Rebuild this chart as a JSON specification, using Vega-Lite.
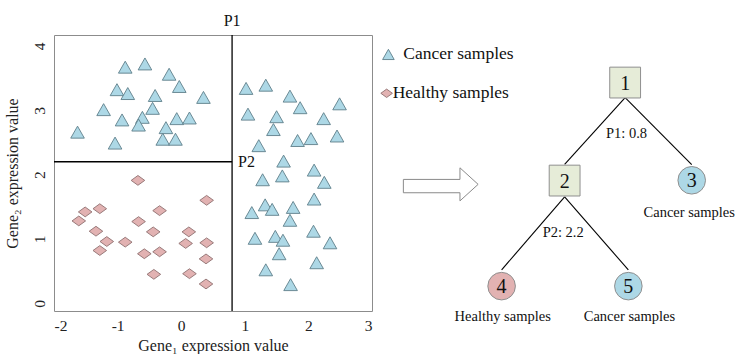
{
  "$schema": "https://vega.github.io/schema/vega-lite/v6.json",
  "padding": {"left": 3, "top": 12, "right": 0, "bottom": 0},
  "bounds": "flush",
  "spacing": 10,
  "config": {
    "font": "Liberation Serif",
    "text": {"font": "Liberation Serif", "color": "#111111"},
    "axis": {"labelFont": "Liberation Serif", "titleFont": "Liberation Serif", "labelColor": "#222222", "titleColor": "#222222", "titleFontWeight": "normal", "grid": false, "domain": false, "ticks": false}
  },
  "datasets": {
    "samples": [
      {"group": "Cancer samples", "gene1": -0.88, "gene2": 3.67},
      {"group": "Cancer samples", "gene1": -0.57, "gene2": 3.72},
      {"group": "Cancer samples", "gene1": -0.19, "gene2": 3.56},
      {"group": "Cancer samples", "gene1": -0.03, "gene2": 3.37},
      {"group": "Cancer samples", "gene1": -1.01, "gene2": 3.32},
      {"group": "Cancer samples", "gene1": -0.84, "gene2": 3.26},
      {"group": "Cancer samples", "gene1": -0.41, "gene2": 3.23},
      {"group": "Cancer samples", "gene1": 0.35, "gene2": 3.20},
      {"group": "Cancer samples", "gene1": -1.22, "gene2": 3.01},
      {"group": "Cancer samples", "gene1": -0.45, "gene2": 3.03},
      {"group": "Cancer samples", "gene1": -0.93, "gene2": 2.85},
      {"group": "Cancer samples", "gene1": -0.61, "gene2": 2.89},
      {"group": "Cancer samples", "gene1": -0.67, "gene2": 2.77},
      {"group": "Cancer samples", "gene1": -0.07, "gene2": 2.87},
      {"group": "Cancer samples", "gene1": 0.13, "gene2": 2.88},
      {"group": "Cancer samples", "gene1": -0.24, "gene2": 2.73},
      {"group": "Cancer samples", "gene1": -1.63, "gene2": 2.66},
      {"group": "Cancer samples", "gene1": -0.29, "gene2": 2.55},
      {"group": "Cancer samples", "gene1": -0.09, "gene2": 2.55},
      {"group": "Cancer samples", "gene1": -1.04, "gene2": 2.49},
      {"group": "Cancer samples", "gene1": 1.02, "gene2": 3.34},
      {"group": "Cancer samples", "gene1": 1.33, "gene2": 3.39},
      {"group": "Cancer samples", "gene1": 1.71, "gene2": 3.22},
      {"group": "Cancer samples", "gene1": 2.49, "gene2": 3.10},
      {"group": "Cancer samples", "gene1": 1.87, "gene2": 3.04},
      {"group": "Cancer samples", "gene1": 1.05, "gene2": 2.94},
      {"group": "Cancer samples", "gene1": 1.50, "gene2": 2.90},
      {"group": "Cancer samples", "gene1": 2.24, "gene2": 2.87},
      {"group": "Cancer samples", "gene1": 1.45, "gene2": 2.70},
      {"group": "Cancer samples", "gene1": 1.83, "gene2": 2.53},
      {"group": "Cancer samples", "gene1": 2.04, "gene2": 2.56},
      {"group": "Cancer samples", "gene1": 2.45, "gene2": 2.60},
      {"group": "Cancer samples", "gene1": 1.22, "gene2": 2.45},
      {"group": "Cancer samples", "gene1": 1.61, "gene2": 2.21},
      {"group": "Cancer samples", "gene1": 2.09, "gene2": 2.07},
      {"group": "Cancer samples", "gene1": 1.28, "gene2": 1.92},
      {"group": "Cancer samples", "gene1": 1.59, "gene2": 1.98},
      {"group": "Cancer samples", "gene1": 2.25, "gene2": 1.88},
      {"group": "Cancer samples", "gene1": 2.09, "gene2": 1.62},
      {"group": "Cancer samples", "gene1": 1.32, "gene2": 1.53},
      {"group": "Cancer samples", "gene1": 1.43, "gene2": 1.46},
      {"group": "Cancer samples", "gene1": 1.11, "gene2": 1.41},
      {"group": "Cancer samples", "gene1": 1.76, "gene2": 1.49},
      {"group": "Cancer samples", "gene1": 1.71, "gene2": 1.29},
      {"group": "Cancer samples", "gene1": 2.08, "gene2": 1.12},
      {"group": "Cancer samples", "gene1": 1.16, "gene2": 1.01},
      {"group": "Cancer samples", "gene1": 1.48, "gene2": 1.04},
      {"group": "Cancer samples", "gene1": 1.60, "gene2": 0.98},
      {"group": "Cancer samples", "gene1": 2.34, "gene2": 0.94},
      {"group": "Cancer samples", "gene1": 1.54, "gene2": 0.77},
      {"group": "Cancer samples", "gene1": 2.13, "gene2": 0.63},
      {"group": "Cancer samples", "gene1": 1.33, "gene2": 0.52},
      {"group": "Cancer samples", "gene1": 1.72, "gene2": 0.29},
      {"group": "Healthy samples", "gene1": -0.68, "gene2": 1.91},
      {"group": "Healthy samples", "gene1": 0.40, "gene2": 1.60},
      {"group": "Healthy samples", "gene1": -1.51, "gene2": 1.42},
      {"group": "Healthy samples", "gene1": -1.28, "gene2": 1.47},
      {"group": "Healthy samples", "gene1": -0.34, "gene2": 1.44},
      {"group": "Healthy samples", "gene1": -1.61, "gene2": 1.28},
      {"group": "Healthy samples", "gene1": -0.67, "gene2": 1.27},
      {"group": "Healthy samples", "gene1": -1.34, "gene2": 1.12},
      {"group": "Healthy samples", "gene1": -0.44, "gene2": 1.11},
      {"group": "Healthy samples", "gene1": 0.12, "gene2": 1.11},
      {"group": "Healthy samples", "gene1": -1.17, "gene2": 0.96},
      {"group": "Healthy samples", "gene1": -0.88, "gene2": 0.95},
      {"group": "Healthy samples", "gene1": 0.07, "gene2": 0.93},
      {"group": "Healthy samples", "gene1": 0.40, "gene2": 0.94},
      {"group": "Healthy samples", "gene1": -1.28, "gene2": 0.82},
      {"group": "Healthy samples", "gene1": -0.58, "gene2": 0.77},
      {"group": "Healthy samples", "gene1": -0.34, "gene2": 0.80},
      {"group": "Healthy samples", "gene1": 0.39, "gene2": 0.69},
      {"group": "Healthy samples", "gene1": -0.43, "gene2": 0.45},
      {"group": "Healthy samples", "gene1": 0.13, "gene2": 0.46},
      {"group": "Healthy samples", "gene1": 0.39, "gene2": 0.30}
    ],
    "nodes": [
      {"id": "1", "kind": "split", "x": 68.3, "y": 83.6},
      {"id": "2", "kind": "split", "x": 51.3, "y": 49.8},
      {"id": "3", "kind": "Cancer samples", "x": 87.0, "y": 49.9},
      {"id": "4", "kind": "Healthy samples", "x": 33.6, "y": 13.4},
      {"id": "5", "kind": "Cancer samples", "x": 69.2, "y": 13.4}
    ],
    "edges": [
      {"x": 68.3, "y": 78.4, "x2": 51.3, "y2": 55.4},
      {"x": 68.3, "y": 78.4, "x2": 87.0, "y2": 55.3},
      {"x": 51.3, "y": 44.2, "x2": 33.6, "y2": 19.0},
      {"x": 51.3, "y": 44.2, "x2": 69.2, "y2": 19.0}
    ],
    "treeLabels": [
      {"text": "P1: 0.8", "x": 68.7, "y": 66.0},
      {"text": "P2: 2.2", "x": 50.9, "y": 31.8},
      {"text": "Cancer samples", "x": 86.3, "y": 38.7},
      {"text": "Healthy samples", "x": 33.9, "y": 2.9},
      {"text": "Cancer samples", "x": 69.5, "y": 2.9}
    ],
    "arrow": [
      {"i": 0, "x": 6.0, "y": 50.2},
      {"i": 1, "x": 21.9, "y": 50.2},
      {"i": 2, "x": 21.9, "y": 54.2},
      {"i": 3, "x": 27.0, "y": 48.5},
      {"i": 4, "x": 21.9, "y": 42.8},
      {"i": 5, "x": 21.9, "y": 45.6},
      {"i": 6, "x": 6.0, "y": 45.6},
      {"i": 7, "x": 6.0, "y": 50.2}
    ],
    "legend": [
      {"group": "Cancer samples", "x": 1.8, "y": 93.3, "tx": 6.0},
      {"group": "Healthy samples", "x": 1.3, "y": 79.9, "tx": 3.0}
    ]
  },
  "hconcat": [
    {
      "width": 318,
      "height": 276,
      "view": {"stroke": "#8c8c8c", "strokeWidth": 1},
      "layer": [
        {
          "data": {"name": "samples"},
          "mark": {"type": "point", "filled": true, "size": 185, "strokeWidth": 0.9, "opacity": 1},
          "encoding": {
            "x": {"field": "gene1", "type": "quantitative", "title": "Gene₁ expression value",
                  "scale": {"domain": [-2, 3], "nice": false, "zero": false},
                  "axis": {"values": [-2, -1, 0, 1, 2, 3], "labelExpr": "'' + datum.value", "labelFontSize": 15.5, "titleFontSize": 16, "labelPadding": 7, "titlePadding": 4}},
            "y": {"field": "gene2", "type": "quantitative", "title": "Gene₂ expression value",
                  "scale": {"domain": [-0.12, 4.17], "nice": false, "zero": false},
                  "axis": {"values": [0, 1, 2, 3, 4], "labelExpr": "'' + datum.value", "labelAngle": -90, "labelFontSize": 15.5, "titleFontSize": 16, "labelPadding": 7, "titlePadding": 12}},
            "shape": {"field": "group", "type": "nominal", "legend": null,
                      "scale": {"domain": ["Cancer samples", "Healthy samples"], "range": ["M0,-0.88L1,0.88L-1,0.88Z", "M-1,0L0,-0.72L1,0L0,0.72Z"]}},
            "fill": {"field": "group", "type": "nominal", "legend": null,
                     "scale": {"domain": ["Cancer samples", "Healthy samples"], "range": ["#add8e6", "#e2b2b2"]}},
            "stroke": {"field": "group", "type": "nominal", "legend": null,
                       "scale": {"domain": ["Cancer samples", "Healthy samples"], "range": ["#5f7f8a", "#8f7070"]}}
          }
        },
        {
          "data": {"values": [{"split": "P1", "gene1": 0.8}]},
          "mark": {"type": "rule", "color": "#000000", "strokeWidth": 1.3},
          "encoding": {"x": {"field": "gene1", "type": "quantitative"}}
        },
        {
          "data": {"values": [{"split": "P2", "gene1": -2, "gene1_end": 0.8, "gene2": 2.2}]},
          "mark": {"type": "rule", "color": "#000000", "strokeWidth": 1.3},
          "encoding": {
            "x": {"field": "gene1", "type": "quantitative"},
            "x2": {"field": "gene1_end"},
            "y": {"field": "gene2", "type": "quantitative"}
          }
        },
        {
          "data": {"values": [{"label": "P1", "gene1": 0.8, "gene2": 4.17}]},
          "mark": {"type": "text", "fontSize": 16, "align": "center", "baseline": "alphabetic", "dy": -9},
          "encoding": {
            "x": {"field": "gene1", "type": "quantitative"},
            "y": {"field": "gene2", "type": "quantitative"},
            "text": {"field": "label"}
          }
        },
        {
          "data": {"values": [{"label": "P2", "gene1": 0.8, "gene2": 2.2}]},
          "mark": {"type": "text", "fontSize": 16, "align": "left", "baseline": "middle", "dx": 6},
          "encoding": {
            "x": {"field": "gene1", "type": "quantitative"},
            "y": {"field": "gene2", "type": "quantitative"},
            "text": {"field": "label"}
          }
        }
      ]
    },
    {
      "width": 356,
      "height": 290,
      "view": {"stroke": null},
      "layer": [
        {
          "data": {"name": "arrow"},
          "mark": {"type": "line", "color": "#8a8a8a", "strokeWidth": 1},
          "encoding": {
            "x": {"field": "x", "type": "quantitative", "scale": {"domain": [0, 100], "nice": false, "zero": false}, "axis": null},
            "y": {"field": "y", "type": "quantitative", "scale": {"domain": [0, 100], "nice": false, "zero": false}, "axis": null},
            "order": {"field": "i", "type": "quantitative"}
          }
        },
        {
          "data": {"name": "edges"},
          "mark": {"type": "rule", "color": "#000000", "strokeWidth": 1.1},
          "encoding": {
            "x": {"field": "x", "type": "quantitative"},
            "y": {"field": "y", "type": "quantitative"},
            "x2": {"field": "x2"},
            "y2": {"field": "y2"}
          }
        },
        {
          "data": {"name": "nodes"},
          "transform": [{"filter": "datum.kind === 'split'"}],
          "mark": {"type": "point", "shape": "square", "filled": true, "size": 950, "fill": "#e6ecd8", "stroke": "#8f8f8f", "strokeWidth": 1, "opacity": 1},
          "encoding": {
            "x": {"field": "x", "type": "quantitative"},
            "y": {"field": "y", "type": "quantitative"}
          }
        },
        {
          "data": {"name": "nodes"},
          "transform": [{"filter": "datum.kind !== 'split'"}],
          "mark": {"type": "point", "shape": "circle", "filled": true, "size": 760, "stroke": "#8f8f8f", "strokeWidth": 1, "opacity": 1},
          "encoding": {
            "x": {"field": "x", "type": "quantitative"},
            "y": {"field": "y", "type": "quantitative"},
            "fill": {"field": "kind", "type": "nominal", "legend": null,
                     "scale": {"domain": ["Cancer samples", "Healthy samples"], "range": ["#add8e6", "#e2b2b2"]}}
          }
        },
        {
          "data": {"name": "nodes"},
          "mark": {"type": "text", "fontSize": 20, "align": "center", "baseline": "middle", "dy": 1},
          "encoding": {
            "x": {"field": "x", "type": "quantitative"},
            "y": {"field": "y", "type": "quantitative"},
            "text": {"field": "id"}
          }
        },
        {
          "data": {"name": "treeLabels"},
          "mark": {"type": "text", "fontSize": 14.5, "align": "center", "baseline": "middle"},
          "encoding": {
            "x": {"field": "x", "type": "quantitative"},
            "y": {"field": "y", "type": "quantitative"},
            "text": {"field": "text"}
          }
        },
        {
          "data": {"name": "legend"},
          "mark": {"type": "point", "filled": true, "size": 135, "strokeWidth": 0.9, "opacity": 1},
          "encoding": {
            "x": {"field": "x", "type": "quantitative"},
            "y": {"field": "y", "type": "quantitative"},
            "shape": {"field": "group", "type": "nominal", "legend": null},
            "fill": {"field": "group", "type": "nominal", "legend": null},
            "stroke": {"field": "group", "type": "nominal", "legend": null}
          }
        },
        {
          "data": {"name": "legend"},
          "mark": {"type": "text", "fontSize": 17.5, "align": "left", "baseline": "middle"},
          "encoding": {
            "x": {"field": "tx", "type": "quantitative"},
            "y": {"field": "y", "type": "quantitative"},
            "text": {"field": "group"}
          }
        }
      ]
    }
  ]
}
